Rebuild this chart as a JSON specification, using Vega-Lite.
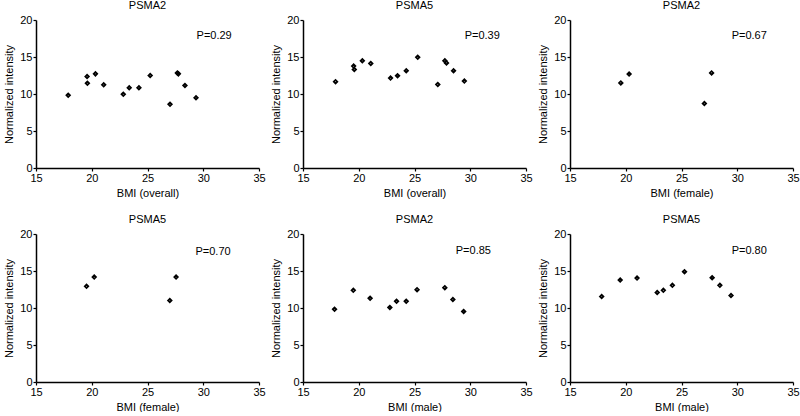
{
  "$schema": "https://vega.github.io/schema/vega-lite/v6.json",
  "padding": {"left": 3, "top": 0, "right": 5, "bottom": 0},
  "background": "white",
  "config": {
    "view": {"stroke": null},
    "font": "Liberation Sans",
    "point": {"opacity": 1},
    "axis": {
      "grid": false, "domainColor": "black", "domainWidth": 1.5, "tickColor": "black", "tickWidth": 1.2, "tickSize": 3, "tickCount": 10,
      "labelColor": "black", "labelFontSize": 11, "labelFont": "Liberation Sans", "labelPadding": 1, "labelOverlap": false, "labelFlush": false,
      "titleColor": "black", "titleFontSize": 11, "titleFontWeight": "normal", "titleFont": "Liberation Sans"
    },
    "axisY": {"titlePadding": 5},
    "axisX": {"titlePadding": 4},
    "title": {"fontSize": 11, "fontWeight": "normal", "font": "Liberation Sans", "color": "black", "offset": 3}
  },
  "datasets": {
    "pts": [
      {"panel": 1, "bmi": 17.89, "v": 9.84}, {"panel": 1, "bmi": 19.58, "v": 12.36}, {"panel": 1, "bmi": 19.61, "v": 11.46},
      {"panel": 1, "bmi": 20.33, "v": 12.72}, {"panel": 1, "bmi": 21.07, "v": 11.24}, {"panel": 1, "bmi": 22.83, "v": 9.98},
      {"panel": 1, "bmi": 23.36, "v": 10.83}, {"panel": 1, "bmi": 24.23, "v": 10.83}, {"panel": 1, "bmi": 25.24, "v": 12.49},
      {"panel": 1, "bmi": 27.02, "v": 8.63}, {"panel": 1, "bmi": 27.68, "v": 12.85}, {"panel": 1, "bmi": 27.77, "v": 12.72},
      {"panel": 1, "bmi": 28.36, "v": 11.15}, {"panel": 1, "bmi": 29.35, "v": 9.48},
      {"panel": 2, "bmi": 17.92, "v": 11.66}, {"panel": 2, "bmi": 19.54, "v": 13.77}, {"panel": 2, "bmi": 19.6, "v": 13.3},
      {"panel": 2, "bmi": 20.32, "v": 14.48}, {"panel": 2, "bmi": 21.08, "v": 14.13}, {"panel": 2, "bmi": 22.85, "v": 12.15},
      {"panel": 2, "bmi": 23.48, "v": 12.47}, {"panel": 2, "bmi": 24.26, "v": 13.14}, {"panel": 2, "bmi": 25.29, "v": 14.98},
      {"panel": 2, "bmi": 27.09, "v": 11.3}, {"panel": 2, "bmi": 27.72, "v": 14.48}, {"panel": 2, "bmi": 27.87, "v": 14.2},
      {"panel": 2, "bmi": 28.5, "v": 13.14}, {"panel": 2, "bmi": 29.47, "v": 11.75},
      {"panel": 3, "bmi": 19.56, "v": 11.5}, {"panel": 3, "bmi": 20.3, "v": 12.7}, {"panel": 3, "bmi": 27.05, "v": 8.7}, {"panel": 3, "bmi": 27.7, "v": 12.85},
      {"panel": 4, "bmi": 19.53, "v": 12.93}, {"panel": 4, "bmi": 20.22, "v": 14.18}, {"panel": 4, "bmi": 27.0, "v": 11.0}, {"panel": 4, "bmi": 27.56, "v": 14.18},
      {"panel": 5, "bmi": 17.83, "v": 9.84}, {"panel": 5, "bmi": 19.51, "v": 12.39}, {"panel": 5, "bmi": 21.02, "v": 11.32},
      {"panel": 5, "bmi": 22.79, "v": 10.07}, {"panel": 5, "bmi": 23.39, "v": 10.92}, {"panel": 5, "bmi": 24.26, "v": 10.92},
      {"panel": 5, "bmi": 25.23, "v": 12.48}, {"panel": 5, "bmi": 27.72, "v": 12.75}, {"panel": 5, "bmi": 28.44, "v": 11.14},
      {"panel": 5, "bmi": 29.41, "v": 9.53},
      {"panel": 6, "bmi": 17.84, "v": 11.54}, {"panel": 6, "bmi": 19.5, "v": 13.78}, {"panel": 6, "bmi": 21.01, "v": 14.05},
      {"panel": 6, "bmi": 22.82, "v": 12.08}, {"panel": 6, "bmi": 23.37, "v": 12.39}, {"panel": 6, "bmi": 24.18, "v": 13.06},
      {"panel": 6, "bmi": 25.27, "v": 14.9}, {"panel": 6, "bmi": 27.75, "v": 14.09}, {"panel": 6, "bmi": 28.44, "v": 13.06},
      {"panel": 6, "bmi": 29.44, "v": 11.68}
    ]
  },
  "columns": 3,
  "bounds": "flush",
  "spacing": {"row": 66, "column": 44},
  "concat": [
    {
      "title": "PSMA2", "width": 223, "height": 148,
      "layer": [
        {"data": {"name": "pts"}, "transform": [{"filter": "datum.panel === 1"}],
         "mark": {"type": "point", "shape": "diamond", "size": 12, "filled": false, "stroke": "black", "strokeWidth": 1.8, "opacity": 1},
         "encoding": {
           "x": {"field": "bmi", "type": "quantitative", "title": "BMI (overall)", "scale": {"domain": [15, 35], "nice": false, "zero": false}, "axis": {"values": [15, 20, 25, 30, 35]}},
           "y": {"field": "v", "type": "quantitative", "title": "Normalized intensity", "scale": {"domain": [0, 20], "nice": false}, "axis": {"values": [0, 5, 10, 15, 20]}}}},
        {"data": {"values": [{"label": "P=0.29"}]}, "mark": {"type": "text", "align": "left", "baseline": "middle", "fontSize": 11, "color": "black"},
         "encoding": {"x": {"datum": 29.4}, "y": {"datum": 17.8}, "text": {"field": "label"}}}
      ]
    },
    {
      "title": "PSMA5", "width": 223, "height": 148,
      "layer": [
        {"data": {"name": "pts"}, "transform": [{"filter": "datum.panel === 2"}],
         "mark": {"type": "point", "shape": "diamond", "size": 12, "filled": false, "stroke": "black", "strokeWidth": 1.8, "opacity": 1},
         "encoding": {
           "x": {"field": "bmi", "type": "quantitative", "title": "BMI (overall)", "scale": {"domain": [15, 35], "nice": false, "zero": false}, "axis": {"values": [15, 20, 25, 30, 35]}},
           "y": {"field": "v", "type": "quantitative", "title": "Normalized intensity", "scale": {"domain": [0, 20], "nice": false}, "axis": {"values": [0, 5, 10, 15, 20]}}}},
        {"data": {"values": [{"label": "P=0.39"}]}, "mark": {"type": "text", "align": "left", "baseline": "middle", "fontSize": 11, "color": "black"},
         "encoding": {"x": {"datum": 29.5}, "y": {"datum": 17.8}, "text": {"field": "label"}}}
      ]
    },
    {
      "title": "PSMA2", "width": 223, "height": 148,
      "layer": [
        {"data": {"name": "pts"}, "transform": [{"filter": "datum.panel === 3"}],
         "mark": {"type": "point", "shape": "diamond", "size": 12, "filled": false, "stroke": "black", "strokeWidth": 1.8, "opacity": 1},
         "encoding": {
           "x": {"field": "bmi", "type": "quantitative", "title": "BMI (female)", "scale": {"domain": [15, 35], "nice": false, "zero": false}, "axis": {"values": [15, 20, 25, 30, 35]}},
           "y": {"field": "v", "type": "quantitative", "title": "Normalized intensity", "scale": {"domain": [0, 20], "nice": false}, "axis": {"values": [0, 5, 10, 15, 20]}}}},
        {"data": {"values": [{"label": "P=0.67"}]}, "mark": {"type": "text", "align": "left", "baseline": "middle", "fontSize": 11, "color": "black"},
         "encoding": {"x": {"datum": 29.5}, "y": {"datum": 17.8}, "text": {"field": "label"}}}
      ]
    },
    {
      "title": "PSMA5", "width": 223, "height": 148,
      "layer": [
        {"data": {"name": "pts"}, "transform": [{"filter": "datum.panel === 4"}],
         "mark": {"type": "point", "shape": "diamond", "size": 12, "filled": false, "stroke": "black", "strokeWidth": 1.8, "opacity": 1},
         "encoding": {
           "x": {"field": "bmi", "type": "quantitative", "title": "BMI (female)", "scale": {"domain": [15, 35], "nice": false, "zero": false}, "axis": {"values": [15, 20, 25, 30, 35]}},
           "y": {"field": "v", "type": "quantitative", "title": "Normalized intensity", "scale": {"domain": [0, 20], "nice": false}, "axis": {"values": [0, 5, 10, 15, 20]}}}},
        {"data": {"values": [{"label": "P=0.70"}]}, "mark": {"type": "text", "align": "left", "baseline": "middle", "fontSize": 11, "color": "black"},
         "encoding": {"x": {"datum": 29.3}, "y": {"datum": 17.6}, "text": {"field": "label"}}}
      ]
    },
    {
      "title": "PSMA2", "width": 223, "height": 148,
      "layer": [
        {"data": {"name": "pts"}, "transform": [{"filter": "datum.panel === 5"}],
         "mark": {"type": "point", "shape": "diamond", "size": 12, "filled": false, "stroke": "black", "strokeWidth": 1.8, "opacity": 1},
         "encoding": {
           "x": {"field": "bmi", "type": "quantitative", "title": "BMI (male)", "scale": {"domain": [15, 35], "nice": false, "zero": false}, "axis": {"values": [15, 20, 25, 30, 35]}},
           "y": {"field": "v", "type": "quantitative", "title": "Normalized intensity", "scale": {"domain": [0, 20], "nice": false}, "axis": {"values": [0, 5, 10, 15, 20]}}}},
        {"data": {"values": [{"label": "P=0.85"}]}, "mark": {"type": "text", "align": "left", "baseline": "middle", "fontSize": 11, "color": "black"},
         "encoding": {"x": {"datum": 28.7}, "y": {"datum": 17.7}, "text": {"field": "label"}}}
      ]
    },
    {
      "title": "PSMA5", "width": 223, "height": 148,
      "layer": [
        {"data": {"name": "pts"}, "transform": [{"filter": "datum.panel === 6"}],
         "mark": {"type": "point", "shape": "diamond", "size": 12, "filled": false, "stroke": "black", "strokeWidth": 1.8, "opacity": 1},
         "encoding": {
           "x": {"field": "bmi", "type": "quantitative", "title": "BMI (male)", "scale": {"domain": [15, 35], "nice": false, "zero": false}, "axis": {"values": [15, 20, 25, 30, 35]}},
           "y": {"field": "v", "type": "quantitative", "title": "Normalized intensity", "scale": {"domain": [0, 20], "nice": false}, "axis": {"values": [0, 5, 10, 15, 20]}}}},
        {"data": {"values": [{"label": "P=0.80"}]}, "mark": {"type": "text", "align": "left", "baseline": "middle", "fontSize": 11, "color": "black"},
         "encoding": {"x": {"datum": 29.5}, "y": {"datum": 17.7}, "text": {"field": "label"}}}
      ]
    }
  ]
}
